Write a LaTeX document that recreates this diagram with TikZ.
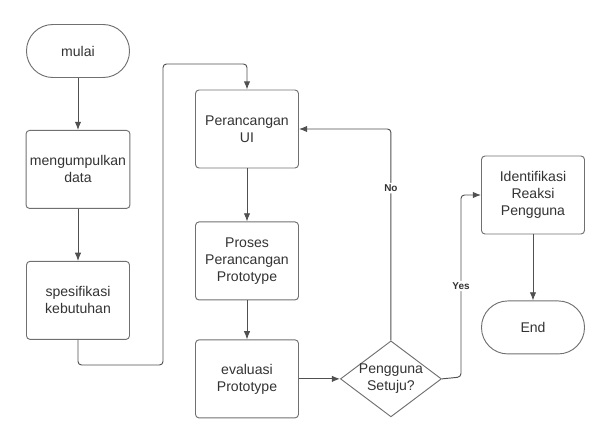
\documentclass[tikz,border=0pt]{standalone}
\usepackage{fontspec}
\setmainfont{Liberation Sans}
\usetikzlibrary{positioning,shapes.geometric,arrows.meta}

\definecolor{garis}{HTML}{505050}
\definecolor{tepi}{HTML}{707070}
\definecolor{teks}{HTML}{333333}

\begin{document}
\begin{tikzpicture}[
  node distance=1.56cm,
  font=\fontsize{12}{14.5}\selectfont,
  proses/.style={rectangle, draw=tepi, rounded corners=3pt, line width=0.8pt,
                 text=teks, align=center, minimum width=3.09cm, minimum height=2.34cm},
  terminal/.style={rectangle, draw=tepi, rounded corners=0.79cm, line width=0.8pt,
                 text=teks, minimum width=3.09cm, minimum height=1.59cm},
  keputusan/.style={diamond, draw=tepi, line width=0.8pt, text=teks, align=center,
                 aspect=1.33, inner sep=-3pt, minimum width=3.03cm, minimum height=2.28cm},
  arrow/.style={-{Latex[length=7pt,width=5.5pt]}, draw=garis, line width=0.8pt,
                rounded corners=3pt},
  ket/.style={fill=white, text=teks, inner sep=1.5pt, font=\fontsize{8.5}{10}\selectfont\bfseries}
]
\useasboundingbox (0,0) rectangle (18.36,-13.29);

% kolom kiri
\node[terminal] (mulai) at (2.34,-1.53) {mulai};
\node[proses, below=of mulai] (kumpul) {mengumpulkan\\data};
\node[proses, below=of kumpul] (spek) {spesifikasi\\kebutuhan};

% kolom tengah
\node[proses] (ui) at (7.41,-3.87) {Perancangan\\UI};
\node[proses, below=1.59cm of ui] (prototipe) {Proses\\Perancangan\\Prototype};
\node[proses, below=1.17cm of prototipe] (evaluasi) {evaluasi\\Prototype};
\node[keputusan, right=1.23cm of evaluasi] (setuju) {Pengguna\\Setuju?};

% kolom kanan
\node[proses] (reaksi) at (15.99,-5.85) {Identifikasi\\Reaksi\\Pengguna};
\node[terminal, below=1.98cm of reaksi] (selesai) {End};

\coordinate (belokA) at (4.89,-10.95);
\coordinate (belokB) at (4.89,-1.92);
\coordinate (belokC) at (13.83,-11.31);

\draw[arrow] (mulai) -- (kumpul);
\draw[arrow] (kumpul) -- (spek);
\draw[arrow] (spek.south) |- (belokA) -- (belokB) -| (ui.north);
\draw[arrow] (ui) -- (prototipe);
\draw[arrow] (prototipe) -- (evaluasi);
\draw[arrow] (evaluasi) -- (setuju);
\draw[arrow] (setuju.north) |- node[ket, pos=0.36]{No} (ui.east);
\draw[arrow] (setuju.east) -- (belokC) |- node[ket, pos=0.25]{Yes} (reaksi.west);
\draw[arrow] (reaksi) -- (selesai);
\end{tikzpicture}
\end{document}
